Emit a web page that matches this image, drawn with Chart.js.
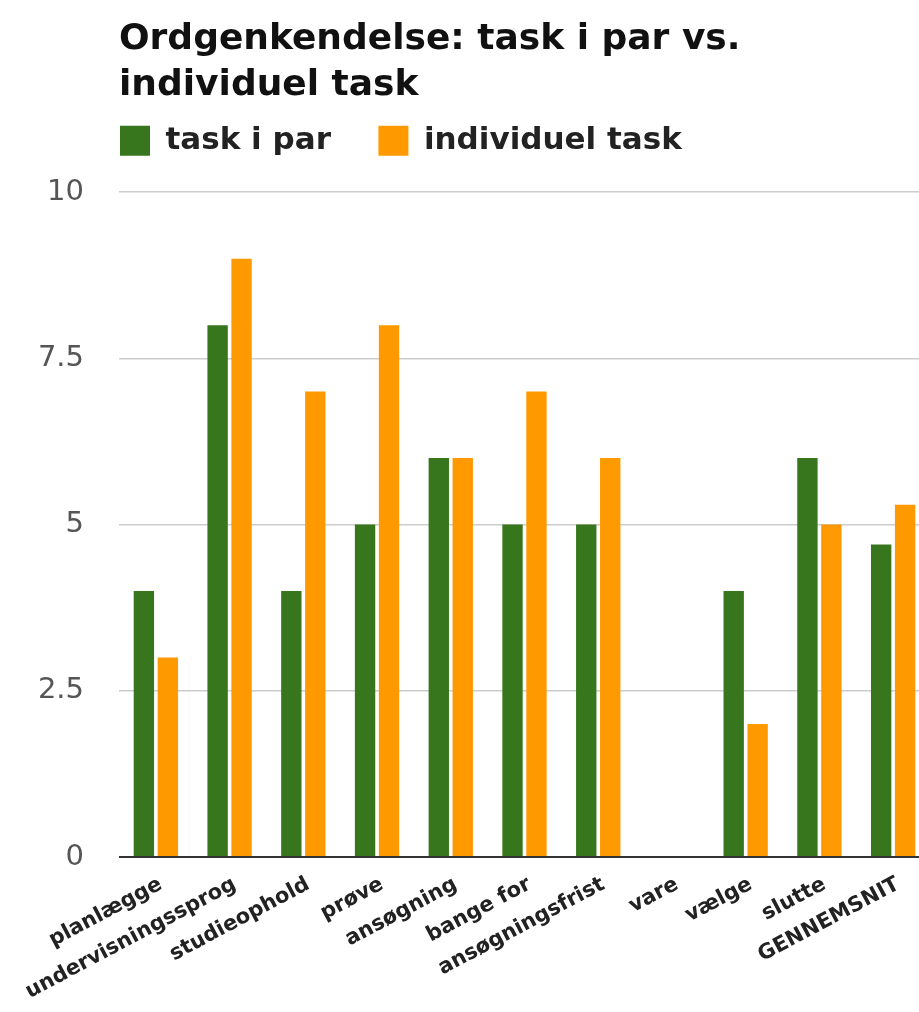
<!DOCTYPE html>
<html>
<head>
<meta charset="utf-8">
<script src="https://cdn.jsdelivr.net/npm/chart.js@4/dist/chart.umd.min.js"></script>
<style>
  html, body { margin: 0; padding: 0; background: #fff; overflow: hidden; }
  #wrap { position: absolute; left: 0; top: 0; width: 930px; height: 1012px; }
</style>
</head>
<body>
<div id="wrap"><canvas id="c"></canvas></div>
<script>
const categories = ["planlægge", "undervisningssprog", "studieophold", "prøve", "ansøgning", "bange for", "ansøgningsfrist", "vare", "vælge", "slutte", "GENNEMSNIT"];
const taskIPar = [4, 8, 4, 5, 6, 5, 5, 0, 4, 6, 4.7];
const individuelTask = [3, 9, 7, 8, 6, 7, 6, 0, 2, 5, 5.3];
const yTicks = [0, 2.5, 5, 7.5, 10];
const titleLines = ["Ordgenkendelse: task i par vs.", "individuel task"];
const seriesNames = ["task i par", "individuel task"];
const legendGap = "\u2002\u2002\u2002";

new Chart(document.getElementById('c'), {
  type: 'bar',
  data: {
    labels: categories,
    datasets: [
      { label: seriesNames[0], data: taskIPar, backgroundColor: '#38761d', borderWidth: 0 },
      { label: seriesNames[1], data: individuelTask, backgroundColor: '#ff9900', borderWidth: 0 }
    ]
  },
  options: {
    responsive: true,
    maintainAspectRatio: false,
    animation: false,
    layout: { padding: { top: 0, left: 0, right: 0, bottom: 0 } },
    datasets: { bar: { categoryPercentage: 0.65, barPercentage: 0.85 } },
    plugins: {
      title: {
        display: true,
        text: titleLines,
        align: 'start',
        fullSize: false,
        color: '#111',
        font: { family: 'DejaVu Sans', size: 36, weight: 'bold', lineHeight: 1.28 },
        padding: { top: 17, bottom: 15 }
      },
      subtitle: {
        display: true,
        text: '',
        weight: 500,
        fullSize: false,
        font: { size: 1, lineHeight: 1 },
        padding: { top: 0, bottom: 25 }
      },
      legend: {
        display: true,
        align: 'start',
        fullSize: false,
        labels: {
          color: '#222',
          font: { family: 'DejaVu Sans', size: 31, weight: 'bold' },
          boxWidth: 30,
          boxHeight: 30,
          padding: 1,
          generateLabels: (chart) => {
            const items = Chart.defaults.plugins.legend.labels.generateLabels(chart);
            items.forEach((it, i) => { if (i < items.length - 1) it.text = it.text + legendGap; });
            return items;
          }
        }
      },
      tooltip: { enabled: false }
    },
    scales: {
      x: {
        grid: { display: false, drawTicks: false },
        border: { display: false },
        ticks: {
          color: '#222',
          font: { family: 'DejaVu Sans', size: 21, weight: 'bold' },
          minRotation: 28,
          maxRotation: 28,
          autoSkip: false,
          padding: 15,
          labelOffset: 5
        },
        afterFit: (s) => { s.height = 155; }
      },
      y: {
        min: 0,
        max: 10,
        afterBuildTicks: (s) => { s.ticks = yTicks.map(v => ({ value: v })); },
        grid: {
          drawTicks: false,
          color: (ctx) => ctx.tick && ctx.tick.value === 0 ? '#333' : '#cccccc',
          lineWidth: (ctx) => ctx.tick && ctx.tick.value === 0 ? 2 : 1.5
        },
        border: { display: false },
        ticks: {
          color: '#555',
          font: { family: 'DejaVu Sans', size: 29 },
          padding: 35
        },
        afterFit: (s) => { s.width = 119; }
      }
    }
  }
});
</script>
</body>
</html>
